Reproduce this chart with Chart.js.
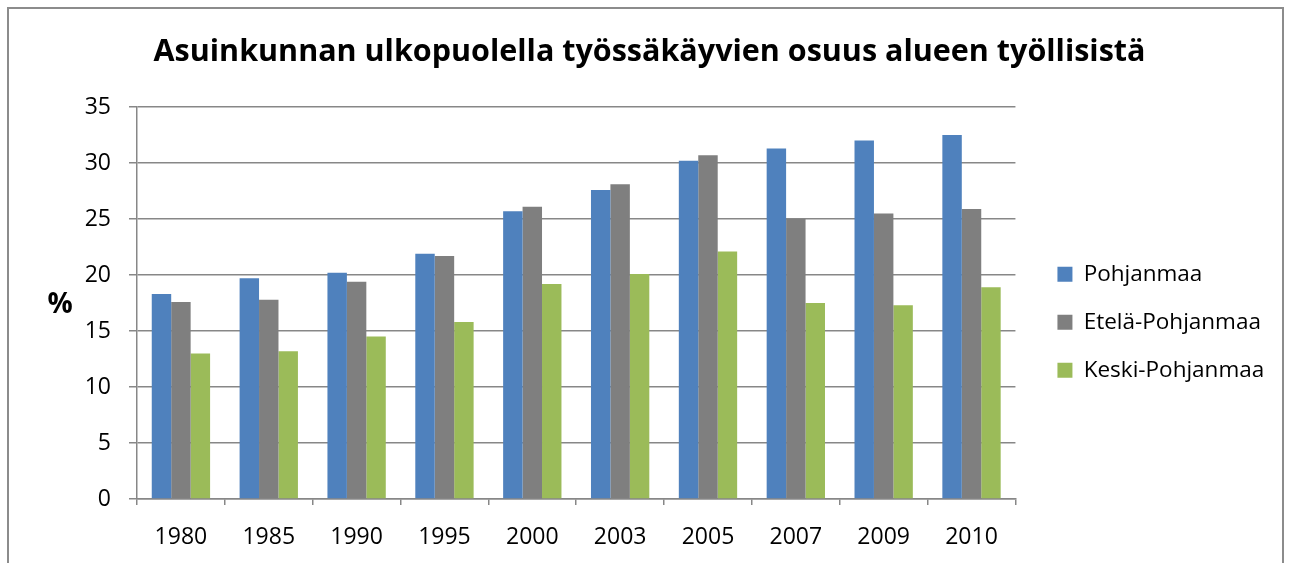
<!DOCTYPE html>
<html lang="fi">
<head>
<meta charset="utf-8">
<title>Asuinkunnan ulkopuolella työssäkäyvien osuus alueen työllisistä</title>
<script src="https://cdn.jsdelivr.net/npm/chart.js@4/dist/chart.umd.min.js"></script>
<style>
  html, body { margin: 0; padding: 0; background: #ffffff; }
  #wrap { position: relative; width: 1290px; height: 563px; }
</style>
</head>
<body>
<div id="wrap"><canvas id="chart" width="1290" height="563"></canvas></div>
<script>
// Vuodet (x-akselin luokat)
const categories = ['1980', '1985', '1990', '1995', '2000', '2003', '2005', '2007', '2009', '2010'];

// Osuudet prosentteina alueittain
const pohjanmaa      = [18.3, 19.7, 20.2, 21.9, 25.7, 27.6, 30.2, 31.3, 32.0, 32.5];
const etelaPohjanmaa = [17.6, 17.8, 19.4, 21.7, 26.1, 28.1, 30.7, 25.0, 25.5, 25.9];
const keskiPohjanmaa = [13.0, 13.2, 14.5, 15.8, 19.2, 20.1, 22.1, 17.5, 17.3, 18.9];

const seriesNames = ['Pohjanmaa', 'Etelä-Pohjanmaa', 'Keski-Pohjanmaa'];
const titleText = 'Asuinkunnan ulkopuolella työssäkäyvien osuus alueen työllisistä';
const yAxisLabel = '%';

// y-akselin asteikko
const yMin = 0;
const yMax = 35;
const yStep = 5;

const FONT = "'Open Sans', 'Noto Sans', sans-serif";
const GRID = '#878787';

// Kehys koko kaavion ympärille
const framePlugin = {
  id: 'frame',
  beforeDraw(chart) {
    const ctx = chart.ctx;
    ctx.save();
    ctx.strokeStyle = '#8c8c8c';
    ctx.lineWidth = 2;
    ctx.strokeRect(8, 8, 1275, 620);
    ctx.restore();
  }
};

// Pystyakselin otsikko vaakasuunnassa akselin vasemmalla puolella
const yLabelPlugin = {
  id: 'yLabel',
  afterDraw(chart) {
    const ctx = chart.ctx;
    const area = chart.chartArea;
    ctx.save();
    ctx.font = "bold 28px " + FONT;
    ctx.fillStyle = '#000000';
    ctx.textAlign = 'center';
    ctx.textBaseline = 'middle';
    ctx.fillText(yAxisLabel, 60, (area.top + area.bottom) / 2 + 2);
    ctx.restore();
  }
};

function drawChart() {
  new Chart(document.getElementById('chart'), {
    type: 'bar',
    data: {
      labels: categories,
      datasets: [
        { label: seriesNames[0], data: pohjanmaa,      backgroundColor: '#4F81BD', yAxisID: 'y' },
        { label: seriesNames[1], data: etelaPohjanmaa, backgroundColor: '#7F7F7F', yAxisID: 'y' },
        { label: seriesNames[2], data: keskiPohjanmaa, backgroundColor: '#9BBB59', yAxisID: 'y' }
      ]
    },
    options: {
      responsive: false,
      animation: false,
      devicePixelRatio: 1,
      layout: { padding: { left: 24.75, right: 15.75, top: 0, bottom: 0 } },
      datasets: {
        bar: { categoryPercentage: 0.664, barPercentage: 1.0, borderWidth: 0 }
      },
      scales: {
        x: {
          grid: { display: true, drawOnChartArea: false, drawTicks: true, tickLength: 6, color: GRID, lineWidth: 1.5 },
          border: { display: true, color: GRID, width: 1.5 },
          ticks: { color: '#000000', font: { family: FONT, size: 23 }, padding: 19, maxRotation: 0 },
          afterFit(scale) { scale.height = 64; }
        },
        y: {
          position: 'left',
          min: yMin,
          max: yMax,
          grid: { color: GRID, lineWidth: 1.5, drawTicks: true, tickLength: 8 },
          border: { display: true, color: GRID, width: 1.5 },
          ticks: { stepSize: yStep, color: '#000000', font: { family: FONT, size: 23 }, padding: 18 },
          afterFit(scale) { scale.width = 112.25; }
        },
        gap: {
          type: 'linear',
          position: 'right',
          display: true,
          grid: { display: false },
          border: { display: false },
          ticks: { display: false },
          afterFit(scale) { scale.width = 16.5; }
        }
      },
      plugins: {
        title: {
          display: true,
          text: titleText,
          color: '#000000',
          font: { family: FONT, size: 30.5, weight: 'bold', lineHeight: 1.2 },
          padding: { top: 34, bottom: 36.4 }
        },
        legend: {
          position: 'right',
          align: 'center',
          maxWidth: 320,
          title: { display: true, text: ' ', font: { size: 10, lineHeight: 1.2 }, padding: { top: 35, bottom: 34.5 } },
          labels: {
            color: '#000000',
            font: { family: FONT, size: 22.5 },
            boxWidth: 15,
            boxHeight: 15,
            padding: 25.5
          }
        },
        tooltip: { enabled: false }
      }
    },
    plugins: [framePlugin, yLabelPlugin]
  });
}

// Fontit ladataan ennen piirtoa, jotta tekstien leveydet mitataan oikein
Promise.all([
  document.fonts.load("22.5px 'Open Sans'"),
  document.fonts.load("23px 'Open Sans'"),
  document.fonts.load("bold 30.5px 'Open Sans'"),
  document.fonts.load("bold 28px 'Open Sans'")
]).then(drawChart, drawChart);
</script>
</body>
</html>
